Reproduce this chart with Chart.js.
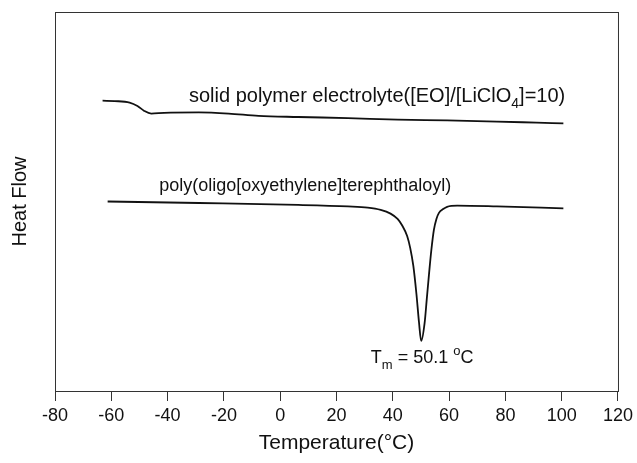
<!DOCTYPE html>
<html>
<head>
<meta charset="utf-8">
<script src="https://cdn.jsdelivr.net/npm/chart.js@4"></script>
<style>
html, body { margin: 0; padding: 0; background: #fff; }
</style>
</head>
<body>
<canvas id="dscChart" width="637" height="463"></canvas>
<script>
// 温度軸の目盛り
const xTicks = [-80, -60, -40, -20, 0, 20, 40, 60, 80, 100, 120];

// solid polymer electrolyte ([EO]/[LiClO4]=10)
const speTemp = [-63.1, -58.8, -53.5, -50.7, -48.3, -45.8, -41.2, -28.9, -18.3, -7.7, 6.4, 24.0, 41.7, 59.3, 77.0, 91.1, 100.6];
const speFlow = [76.6, 76.5, 76.1, 75.2, 73.9, 73.2, 73.4, 73.5, 73.2, 72.6, 72.3, 72.0, 71.6, 71.4, 71.1, 70.8, 70.6];

// poly(oligo[oxyethylene]terephthaloyl)
const poetTemp = [-61.3, -28.9, 6.4, 24.1, 31.1, 35.7, 39.2, 41.7, 43.4, 45.1, 46.2, 47.3, 48.4, 49.3, 50.1, 51.3, 52.1, 52.9, 53.7, 54.6, 55.5, 56.4, 57.9, 59.3, 62.9, 77.0, 100.6];
const poetFlow = [50.0, 49.6, 49.1, 48.7, 48.4, 47.8, 46.8, 45.4, 43.6, 40.9, 37.7, 33.0, 25.6, 18.2, 13.2, 17.9, 24.5, 31.1, 37.2, 42.5, 45.4, 47.0, 48.0, 48.6, 48.9, 48.7, 48.2];

// 注釈（データ座標で位置指定）
const labels = [
  { x: -32.4, y: 77.6, size: 20, parts: [{ t: 'solid polymer electrolyte([EO]/[LiClO' }, { t: '4', sub: true }, { t: ']=10)' }] },
  { x: -43.0, y: 54.1, size: 18, parts: [{ t: 'poly(oligo[oxyethylene]terephthaloyl)' }] },
  { x: 32.2, y: 8.7, size: 18, parts: [{ t: 'T' }, { t: 'm', sub: true }, { t: ' = 50.1 ' }, { t: 'o', sup: true }, { t: 'C' }] }
];

const FONT = '"Liberation Sans", Arial, sans-serif';

function toPoints(xs, ys) {
  return xs.map((x, i) => ({ x: x, y: ys[i] }));
}

const framePlugin = {
  id: 'frame',
  afterDatasetsDraw(chart) {
    const { ctx, chartArea: a, scales } = chart;
    ctx.save();
    ctx.strokeStyle = '#333';
    ctx.lineWidth = 1;
    ctx.strokeRect(a.left + 0.5, a.top + 0.5, a.right - a.left, a.bottom - a.top);

    ctx.fillStyle = '#111';
    ctx.textBaseline = 'middle';
    labels.forEach(l => {
      let px = scales.x.getPixelForValue(l.x);
      const py = scales.y.getPixelForValue(l.y);
      l.parts.forEach(p => {
        const small = p.sub || p.sup;
        ctx.font = (small ? Math.round(l.size * 0.7) : l.size) + 'px ' + FONT;
        const dy = p.sub ? 7 : (p.sup ? -7 : 0);
        ctx.fillText(p.t, px, py + dy);
        px += ctx.measureText(p.t).width;
      });
    });
    ctx.restore();
  }
};

new Chart(document.getElementById('dscChart').getContext('2d'), {
  type: 'line',
  data: {
    datasets: [{
      label: 'SPE',
      data: toPoints(speTemp, speFlow),
      borderColor: '#111',
      borderWidth: 1.8,
      pointRadius: 0,
      cubicInterpolationMode: 'monotone',
      fill: false
    }, {
      label: 'POET',
      data: toPoints(poetTemp, poetFlow),
      borderColor: '#111',
      borderWidth: 1.8,
      pointRadius: 0,
      cubicInterpolationMode: 'monotone',
      fill: false
    }]
  },
  options: {
    responsive: false,
    animation: false,
    layout: { padding: { top: 12, right: 15, left: 0, bottom: 0 } },
    plugins: { legend: { display: false }, tooltip: { enabled: false } },
    scales: {
      x: {
        type: 'linear',
        min: -80,
        max: 120,
        afterBuildTicks: s => { s.ticks = xTicks.map(v => ({ value: v })); },
        afterFit: s => { s.height = 72; },
        ticks: { font: { family: FONT, size: 18 }, color: '#111', padding: 4, maxRotation: 0, autoSkip: false },
        grid: { drawOnChartArea: false, drawTicks: true, tickLength: 10, color: '#333' },
        border: { display: true, color: '#333' },
        title: { display: true, text: 'Temperature(°C)', font: { family: FONT, size: 21 }, color: '#111', padding: { top: 0, bottom: 7 } }
      },
      y: {
        min: 0,
        max: 100,
        afterFit: s => { s.width = 55; },
        ticks: { display: false },
        grid: { display: false },
        border: { display: false },
        title: { display: true, text: 'Heat Flow', font: { family: FONT, size: 20 }, color: '#111', padding: { top: 8, bottom: 0 } }
      }
    }
  },
  plugins: [framePlugin]
});
</script>
</body>
</html>
